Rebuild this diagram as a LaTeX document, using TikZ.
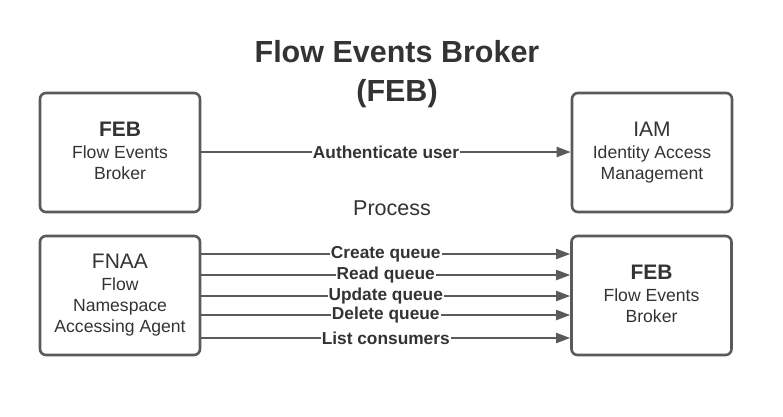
\documentclass[tikz,border=0pt]{standalone}
\usepackage{fontspec}
\setmainfont{Liberation Sans}
\usetikzlibrary{arrows.meta}
\definecolor{ln}{HTML}{5A5A5A}
\definecolor{tx}{HTML}{333333}
\tikzset{
  box/.style={draw=ln, line width=2.6pt, rounded corners=6pt, minimum width=160pt, minimum height=119pt, inner sep=0pt, text=tx, align=center, font=\fontsize{17.6}{21}\selectfont},
  conn/.style={draw=ln, line width=1.9pt, -{Triangle[length=14pt,width=10pt]}},
  lbl/.style={fill=white, inner sep=1pt, text=tx, font=\fontsize{17.3}{18}\selectfont\bfseries},
}
\begin{document}
\begin{tikzpicture}[x=1pt,y=-1pt]
\useasboundingbox (0,0) rectangle (783,416);
\node[text=tx, font=\fontsize{30.5}{39}\selectfont\bfseries, align=center] (title) at (397,74) {Flow Events Broker\\(FEB)};
\node[box] (feb1) at (120,152.5) {{\fontsize{21}{21}\selectfont\bfseries FEB}\\[1pt]Flow Events\\Broker\\[-17pt]};
\node[box] (iam) at (652,152.5) {{\fontsize{21}{21}\selectfont IAM}\\[1pt]Identity Access\\Management\\[-17pt]};
\node[text=tx, font=\fontsize{21.5}{24}\selectfont] (proc) at (392,208) {Process};
\node[box] (fnaa) at (120,295.5) {{\fontsize{21}{21}\selectfont FNAA}\\[1pt]Flow\\Namespace\\Accessing Agent};
\node[box] (feb2) at (651.5,295.5) {{\fontsize{21}{21}\selectfont\bfseries FEB}\\[1pt]Flow Events\\Broker\\[-17pt]};
\draw[conn] (feb1.east |- 0,152) -- node[lbl] {Authenticate user} (iam.west |- 0,152);
\draw[conn] (fnaa.east |- 0,254) -- node[lbl] {Create queue} (feb2.west |- 0,254);
\draw[conn] (fnaa.east |- 0,275) -- node[lbl] {Read queue} (feb2.west |- 0,275);
\draw[conn] (fnaa.east |- 0,296) -- node[lbl] {Update queue} (feb2.west |- 0,296);
\draw[conn] (fnaa.east |- 0,315) -- node[lbl] {Delete queue} (feb2.west |- 0,315);
\draw[conn] (fnaa.east |- 0,338) -- node[lbl] {List consumers} (feb2.west |- 0,338);
\end{tikzpicture}
\end{document}
